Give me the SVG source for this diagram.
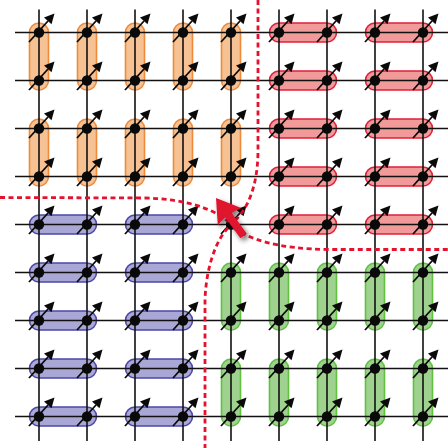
<svg xmlns="http://www.w3.org/2000/svg" xmlns:xlink="http://www.w3.org/1999/xlink" width="448" height="448" viewBox="0 0 448 448">
<style>
.or{fill:#f7c293;stroke:#ef8a3a;stroke-width:1.6}
.rd{fill:#f09a9a;stroke:#e21f3a;stroke-width:1.6}
.bl{fill:#a9a7d6;stroke:#4b4aa6;stroke-width:1.6}
.gr{fill:#9fd28f;stroke:#62c040;stroke-width:1.6}
.grid line{stroke:#111;stroke-width:1.6}
.dash{fill:none;stroke:#e5112d;stroke-width:2.8;stroke-dasharray:5 3.5}
</style>
<defs>
<g id="spin">
<circle r="5.2" fill="#0a0a0a"/>
<line x1="-10" y1="9.5" x2="9" y2="-11.5" stroke="#0a0a0a" stroke-width="1.8"/>
<polygon points="15.5,-19 12.5,-8.3 5,-14.9" fill="#0a0a0a"/>
</g>
<filter id="sh" x="-50%" y="-50%" width="200%" height="200%">
<feDropShadow dx="2.5" dy="3" stdDeviation="2.5" flood-color="#000" flood-opacity="0.55"/>
</filter>
</defs>
<g id="bonds">
<g id="orange">
<rect class="or" x="29.5" y="23" width="19" height="67" rx="9.5"/>
<rect class="or" x="77.5" y="23" width="19" height="67" rx="9.5"/>
<rect class="or" x="125.5" y="23" width="19" height="67" rx="9.5"/>
<rect class="or" x="173.5" y="23" width="19" height="67" rx="9.5"/>
<rect class="or" x="221.5" y="23" width="19" height="67" rx="9.5"/>
<rect class="or" x="29.5" y="119" width="19" height="67" rx="9.5"/>
<rect class="or" x="77.5" y="119" width="19" height="67" rx="9.5"/>
<rect class="or" x="125.5" y="119" width="19" height="67" rx="9.5"/>
<rect class="or" x="173.5" y="119" width="19" height="67" rx="9.5"/>
<rect class="or" x="221.5" y="119" width="19" height="67" rx="9.5"/>
</g>
<g id="red">
<rect class="rd" x="269.5" y="23" width="67" height="19" rx="9.5"/>
<rect class="rd" x="365.5" y="23" width="67" height="19" rx="9.5"/>
<rect class="rd" x="269.5" y="71" width="67" height="19" rx="9.5"/>
<rect class="rd" x="365.5" y="71" width="67" height="19" rx="9.5"/>
<rect class="rd" x="269.5" y="119" width="67" height="19" rx="9.5"/>
<rect class="rd" x="365.5" y="119" width="67" height="19" rx="9.5"/>
<rect class="rd" x="269.5" y="167" width="67" height="19" rx="9.5"/>
<rect class="rd" x="365.5" y="167" width="67" height="19" rx="9.5"/>
<rect class="rd" x="269.5" y="215" width="67" height="19" rx="9.5"/>
<rect class="rd" x="365.5" y="215" width="67" height="19" rx="9.5"/>
</g>
<g id="blue">
<rect class="bl" x="29.5" y="215" width="67" height="19" rx="9.5"/>
<rect class="bl" x="125.5" y="215" width="67" height="19" rx="9.5"/>
<rect class="bl" x="29.5" y="263" width="67" height="19" rx="9.5"/>
<rect class="bl" x="125.5" y="263" width="67" height="19" rx="9.5"/>
<rect class="bl" x="29.5" y="311" width="67" height="19" rx="9.5"/>
<rect class="bl" x="125.5" y="311" width="67" height="19" rx="9.5"/>
<rect class="bl" x="29.5" y="359" width="67" height="19" rx="9.5"/>
<rect class="bl" x="125.5" y="359" width="67" height="19" rx="9.5"/>
<rect class="bl" x="29.5" y="407" width="67" height="19" rx="9.5"/>
<rect class="bl" x="125.5" y="407" width="67" height="19" rx="9.5"/>
</g>
<g id="green">
<rect class="gr" x="221.5" y="263" width="19" height="67" rx="9.5"/>
<rect class="gr" x="269.5" y="263" width="19" height="67" rx="9.5"/>
<rect class="gr" x="317.5" y="263" width="19" height="67" rx="9.5"/>
<rect class="gr" x="365.5" y="263" width="19" height="67" rx="9.5"/>
<rect class="gr" x="413.5" y="263" width="19" height="67" rx="9.5"/>
<rect class="gr" x="221.5" y="359" width="19" height="67" rx="9.5"/>
<rect class="gr" x="269.5" y="359" width="19" height="67" rx="9.5"/>
<rect class="gr" x="317.5" y="359" width="19" height="67" rx="9.5"/>
<rect class="gr" x="365.5" y="359" width="19" height="67" rx="9.5"/>
<rect class="gr" x="413.5" y="359" width="19" height="67" rx="9.5"/>
</g>
</g>
<g id="connectors" class="grid">
<line x1="39" y1="9.5" x2="39" y2="441"/>
<line x1="87" y1="9.5" x2="87" y2="441"/>
<line x1="135" y1="9.5" x2="135" y2="441"/>
<line x1="183" y1="9.5" x2="183" y2="441"/>
<line x1="231" y1="9.5" x2="231" y2="441"/>
<line x1="279" y1="9.5" x2="279" y2="441"/>
<line x1="327" y1="9.5" x2="327" y2="441"/>
<line x1="375" y1="9.5" x2="375" y2="441"/>
<line x1="423" y1="9.5" x2="423" y2="441"/>
<line x1="15" y1="32.5" x2="448" y2="32.5"/>
<line x1="15" y1="80.5" x2="448" y2="80.5"/>
<line x1="15" y1="128.5" x2="448" y2="128.5"/>
<line x1="15" y1="176.5" x2="448" y2="176.5"/>
<line x1="15" y1="224.5" x2="448" y2="224.5"/>
<line x1="15" y1="272.5" x2="448" y2="272.5"/>
<line x1="15" y1="320.5" x2="448" y2="320.5"/>
<line x1="15" y1="368.5" x2="448" y2="368.5"/>
<line x1="15" y1="416.5" x2="448" y2="416.5"/>
</g>
<g id="sites">
<g id="s00"><use href="#spin" x="39" y="32.5"/></g><g id="s01"><use href="#spin" x="87" y="32.5"/></g><g id="s02"><use href="#spin" x="135" y="32.5"/></g><g id="s03"><use href="#spin" x="183" y="32.5"/></g><g id="s04"><use href="#spin" x="231" y="32.5"/></g><g id="s05"><use href="#spin" x="279" y="32.5"/></g><g id="s06"><use href="#spin" x="327" y="32.5"/></g><g id="s07"><use href="#spin" x="375" y="32.5"/></g><g id="s08"><use href="#spin" x="423" y="32.5"/></g>
<g id="s10"><use href="#spin" x="39" y="80.5"/></g><g id="s11"><use href="#spin" x="87" y="80.5"/></g><g id="s12"><use href="#spin" x="135" y="80.5"/></g><g id="s13"><use href="#spin" x="183" y="80.5"/></g><g id="s14"><use href="#spin" x="231" y="80.5"/></g><g id="s15"><use href="#spin" x="279" y="80.5"/></g><g id="s16"><use href="#spin" x="327" y="80.5"/></g><g id="s17"><use href="#spin" x="375" y="80.5"/></g><g id="s18"><use href="#spin" x="423" y="80.5"/></g>
<g id="s20"><use href="#spin" x="39" y="128.5"/></g><g id="s21"><use href="#spin" x="87" y="128.5"/></g><g id="s22"><use href="#spin" x="135" y="128.5"/></g><g id="s23"><use href="#spin" x="183" y="128.5"/></g><g id="s24"><use href="#spin" x="231" y="128.5"/></g><g id="s25"><use href="#spin" x="279" y="128.5"/></g><g id="s26"><use href="#spin" x="327" y="128.5"/></g><g id="s27"><use href="#spin" x="375" y="128.5"/></g><g id="s28"><use href="#spin" x="423" y="128.5"/></g>
<g id="s30"><use href="#spin" x="39" y="176.5"/></g><g id="s31"><use href="#spin" x="87" y="176.5"/></g><g id="s32"><use href="#spin" x="135" y="176.5"/></g><g id="s33"><use href="#spin" x="183" y="176.5"/></g><g id="s34"><use href="#spin" x="231" y="176.5"/></g><g id="s35"><use href="#spin" x="279" y="176.5"/></g><g id="s36"><use href="#spin" x="327" y="176.5"/></g><g id="s37"><use href="#spin" x="375" y="176.5"/></g><g id="s38"><use href="#spin" x="423" y="176.5"/></g>
<g id="s40"><use href="#spin" x="39" y="224.5"/></g><g id="s41"><use href="#spin" x="87" y="224.5"/></g><g id="s42"><use href="#spin" x="135" y="224.5"/></g><g id="s43"><use href="#spin" x="183" y="224.5"/></g><g id="s44"><use href="#spin" x="231" y="224.5"/></g><g id="s45"><use href="#spin" x="279" y="224.5"/></g><g id="s46"><use href="#spin" x="327" y="224.5"/></g><g id="s47"><use href="#spin" x="375" y="224.5"/></g><g id="s48"><use href="#spin" x="423" y="224.5"/></g>
<g id="s50"><use href="#spin" x="39" y="272.5"/></g><g id="s51"><use href="#spin" x="87" y="272.5"/></g><g id="s52"><use href="#spin" x="135" y="272.5"/></g><g id="s53"><use href="#spin" x="183" y="272.5"/></g><g id="s54"><use href="#spin" x="231" y="272.5"/></g><g id="s55"><use href="#spin" x="279" y="272.5"/></g><g id="s56"><use href="#spin" x="327" y="272.5"/></g><g id="s57"><use href="#spin" x="375" y="272.5"/></g><g id="s58"><use href="#spin" x="423" y="272.5"/></g>
<g id="s60"><use href="#spin" x="39" y="320.5"/></g><g id="s61"><use href="#spin" x="87" y="320.5"/></g><g id="s62"><use href="#spin" x="135" y="320.5"/></g><g id="s63"><use href="#spin" x="183" y="320.5"/></g><g id="s64"><use href="#spin" x="231" y="320.5"/></g><g id="s65"><use href="#spin" x="279" y="320.5"/></g><g id="s66"><use href="#spin" x="327" y="320.5"/></g><g id="s67"><use href="#spin" x="375" y="320.5"/></g><g id="s68"><use href="#spin" x="423" y="320.5"/></g>
<g id="s70"><use href="#spin" x="39" y="368.5"/></g><g id="s71"><use href="#spin" x="87" y="368.5"/></g><g id="s72"><use href="#spin" x="135" y="368.5"/></g><g id="s73"><use href="#spin" x="183" y="368.5"/></g><g id="s74"><use href="#spin" x="231" y="368.5"/></g><g id="s75"><use href="#spin" x="279" y="368.5"/></g><g id="s76"><use href="#spin" x="327" y="368.5"/></g><g id="s77"><use href="#spin" x="375" y="368.5"/></g><g id="s78"><use href="#spin" x="423" y="368.5"/></g>
<g id="s80"><use href="#spin" x="39" y="416.5"/></g><g id="s81"><use href="#spin" x="87" y="416.5"/></g><g id="s82"><use href="#spin" x="135" y="416.5"/></g><g id="s83"><use href="#spin" x="183" y="416.5"/></g><g id="s84"><use href="#spin" x="231" y="416.5"/></g><g id="s85"><use href="#spin" x="279" y="416.5"/></g><g id="s86"><use href="#spin" x="327" y="416.5"/></g><g id="s87"><use href="#spin" x="375" y="416.5"/></g><g id="s88"><use href="#spin" x="423" y="416.5"/></g>
</g>
<g id="walls">
<path class="dash" d="M258,0 L258,150 C258,185 248,210 233,222"/>
<path class="dash" d="M0,197.5 L145,198 C185,199 212,208 229,222"/>
<path class="dash" d="M234,228 C248,238 275,249 330,249.5 L448,249.5"/>
<path class="dash" d="M228,228 C216,240 206,268 205,300 L205,448"/>
</g>
<g id="vortex" filter="url(#sh)">
<polygon transform="translate(216,198) rotate(-36)" points="0,0 14.5,23 4,21 4,47 -4,47 -4,21 -14.5,23" fill="#e0122f"/>
</g>
</svg>
